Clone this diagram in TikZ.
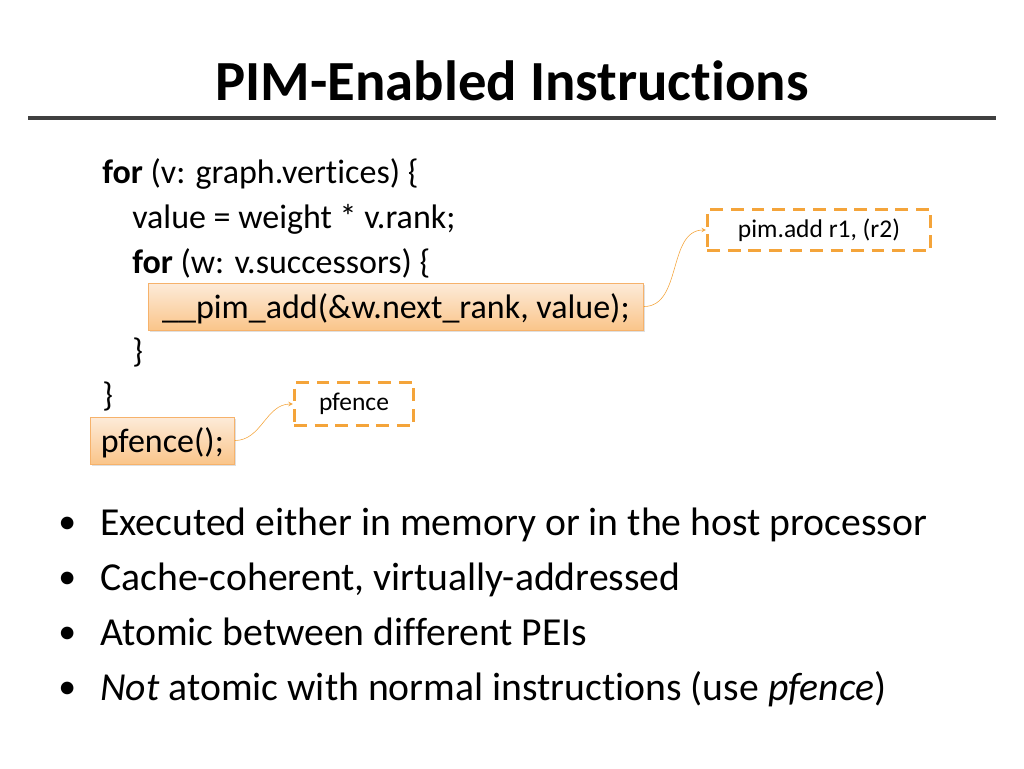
\documentclass[tikz,border=0pt]{standalone}
\usepackage{fontspec}
\setmainfont[Ligatures=NoCommon]{Carlito}
\usepackage{tikz}
\usetikzlibrary{arrows}
\usetikzlibrary{shadows}
\usetikzlibrary{positioning}
\definecolor{peiorange}{HTML}{F4A43A}
\definecolor{peiedge}{HTML}{F6B26B}
\definecolor{peitop}{HTML}{FDEBD9}
\definecolor{peibot}{HTML}{FAC58A}
\tikzset{code/.style={anchor=base west,inner sep=0pt,font=\fontsize{24}{29}\selectfont}}
\tikzset{hl/.style={code,draw=peiedge,top color=peitop,bottom color=peibot,inner xsep=9.8pt,inner ysep=0pt,text depth=8.4pt,text height=24.6pt,drop shadow={opacity=0.25,shadow xshift=1pt,shadow yshift=-1.5pt}}}
\tikzset{isa/.style={rectangle,draw=peiorange,dash pattern=on 9pt off 5.5pt,line width=2pt,font=\fontsize{18}{22}\selectfont}}
\tikzset{bullet/.style={anchor=base west,inner sep=0pt,font=\fontsize{28}{34}\selectfont}}
\newcommand{\pt}{\llap{\raisebox{1pt}{\scalebox{0.9}{•}}\hspace{17pt}}}

\begin{document}
\begin{tikzpicture}[x=0.248mm,y=-0.248mm]
\useasboundingbox (0,0) rectangle (1024,768);
\node[anchor=base,font=\fontsize{40}{48}\selectfont\bfseries] (title) at (512,100) {PIM-Enabled Instructions};
\draw[line width=3pt,black!75] (28,118) -- (996,118);

% code
\node[code] (l1) at (102,183) {\textbf{for} (v: graph.vertices) \{};
\node[code] (l2) at (132,228) {value = weight * v.rank;};
\node[code] (l3) at (132,273) {\textbf{for} (w: v.successors) \{};
\node[hl] (add) at (148,318) {\_\_pim\_add(\&w.next\_rank, value);};
\node[code] (l5) at (132,362) {\}};
\node[code] (l6) at (102,406) {\}};
\node[hl, inner xsep=7.5pt] (fence) at (90,452) {pfence();};

% ISA side
\node[isa, minimum width=157.6pt, minimum height=29.5pt] (pimadd) at (819,230) {pim.add r1, (r2)};
\node[isa, minimum width=84.4pt, minimum height=30pt] (pf) at (354,404) {pfence};
 \draw[-stealth, peiorange] (add.east) to[out=0,in=180] (pimadd.west);
 \draw[-stealth, peiorange] (fence.east) to[out=0,in=180] (pf.west);

% bullets
\node[bullet] (b1) at (100,535) {\pt Executed either in memory or in the host processor};
\node[bullet] (b2) at (100,590) {\pt Cache-coherent, virtually-addressed};
\node[bullet] (b3) at (100,645) {\pt Atomic between different PEIs};
\node[bullet] (b4) at (100,700) {\pt\textit{Not} atomic with normal instructions (use \textit{pfence})};
\end{tikzpicture}
\end{document}
